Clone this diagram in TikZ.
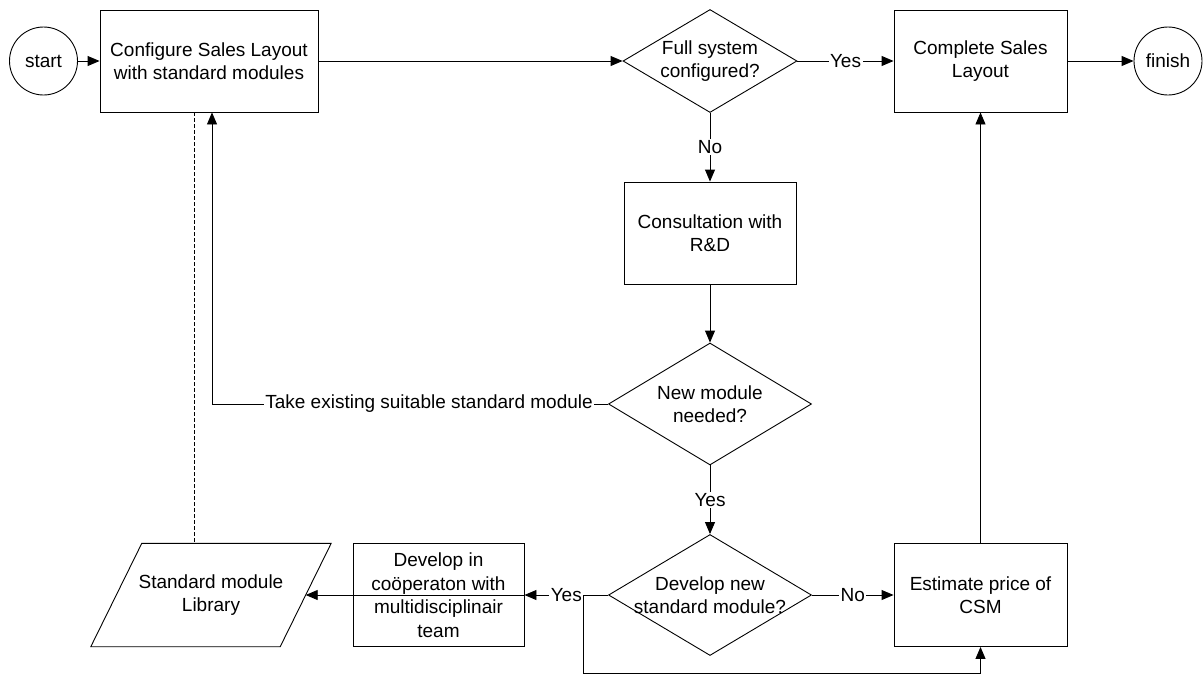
\documentclass[tikz,border=0pt]{standalone}
\usepackage{fontspec}
\setmainfont{Liberation Sans}
\usetikzlibrary{shapes.geometric,arrows.meta,calc}
\begin{document}
\begin{tikzpicture}[x=1pt,y=-1pt,
  every node/.style={font=\fontsize{19}{23.5}\selectfont},
  base/.style={draw,line width=0.9pt,inner sep=0pt,align=center},
  procbox/.style={base,rectangle,minimum height=102pt},
  term/.style={base,circle,minimum size=68pt},
  decision/.style={base,diamond},
  arr/.style={line width=0.9pt,-{Triangle[length=12pt,width=10pt]}},
  lbl/.style={fill=white,inner sep=1.5pt},
  dashline/.style={line width=0.9pt,dash pattern=on 4pt off 2pt}
]
\fill[white] (0,0) rectangle (1203,675);
\useasboundingbox (0,0) rectangle (1203,675);

% top row
\node[term] (start) at (43.5,61) {start};
\node[procbox,minimum width=218pt] (config) at (209,61) {Configure Sales Layout\\with standard modules};
\node[decision,minimum width=174pt,minimum height=103pt,
      label={[align=center]center:{Full system\\configured?}}] (q1) at (710,61) {};
\node[procbox,minimum width=173pt] (complete) at (980.5,61) {Complete Sales\\Layout};
\node[term] (finish) at (1168,61) {finish};

% middle column
\node[procbox,minimum width=172pt] (consult) at (710,233) {Consultation with\\R\&D};
\node[decision,minimum width=203pt,minimum height=122pt,
      label={[align=center]center:{New module\\needed?}}] (q2) at (710,404) {};

% bottom row
\node[decision,minimum width=203pt,minimum height=121pt,
      label={[align=center]center:{Develop new\\standard module?}}] (q3) at (710,595) {};
\node[procbox,minimum width=173pt,minimum height=103pt] (estimate) at (980.5,595) {Estimate price of\\CSM};
\node[procbox,minimum width=171pt,minimum height=103pt] (develop) at (438.5,595) {Develop in\\coöperaton with\\multidisciplinair\\team};
\node[inner sep=0pt,minimum width=189pt,minimum height=103pt,align=center] (library) at (211,595) {Standard module\\Library};
\draw[line width=0.9pt]
  ($(library.north west)+(25.5,0)$) -- ($(library.north east)+(25.5,0)$) --
  ($(library.south east)+(-25.5,0)$) -- ($(library.south west)+(-25.5,0)$) -- cycle;

% connectors
\draw[arr] (start) -- (config);
\draw[arr] (config) -- (q1);
\draw[arr] (q1) -- node[lbl]{Yes} (complete);
\draw[arr] (complete) -- (finish);
\draw[arr] (q1) -- node[lbl]{No} (consult);
\draw[arr] (consult) -- (q2);
\draw[arr] (q2) -- node[lbl]{Yes} (q3);
\draw[arr] (q3) -- node[lbl]{No} (estimate);
\draw[arr] (estimate) -- (complete);
\draw[arr] (q3.west) -- node[lbl]{Yes} (develop.east);
\draw[arr] (develop.east) -- (library.east);

\coordinate (takein) at ([xshift=3pt]config.south);
\draw[arr] (q2.west) -- node[lbl,pos=0.452]{Take existing suitable standard module}
  (q2.west -| takein) -- (takein);

\coordinate (loopcorner) at (583,673);
\draw[arr] (q3.west) -- (q3.west -| loopcorner) -- (loopcorner) -| (estimate.south);

\draw[dashline] ([xshift=-15pt]config.south) -- ([xshift=-15pt]config.south |- library.north);
\end{tikzpicture}
\end{document}
